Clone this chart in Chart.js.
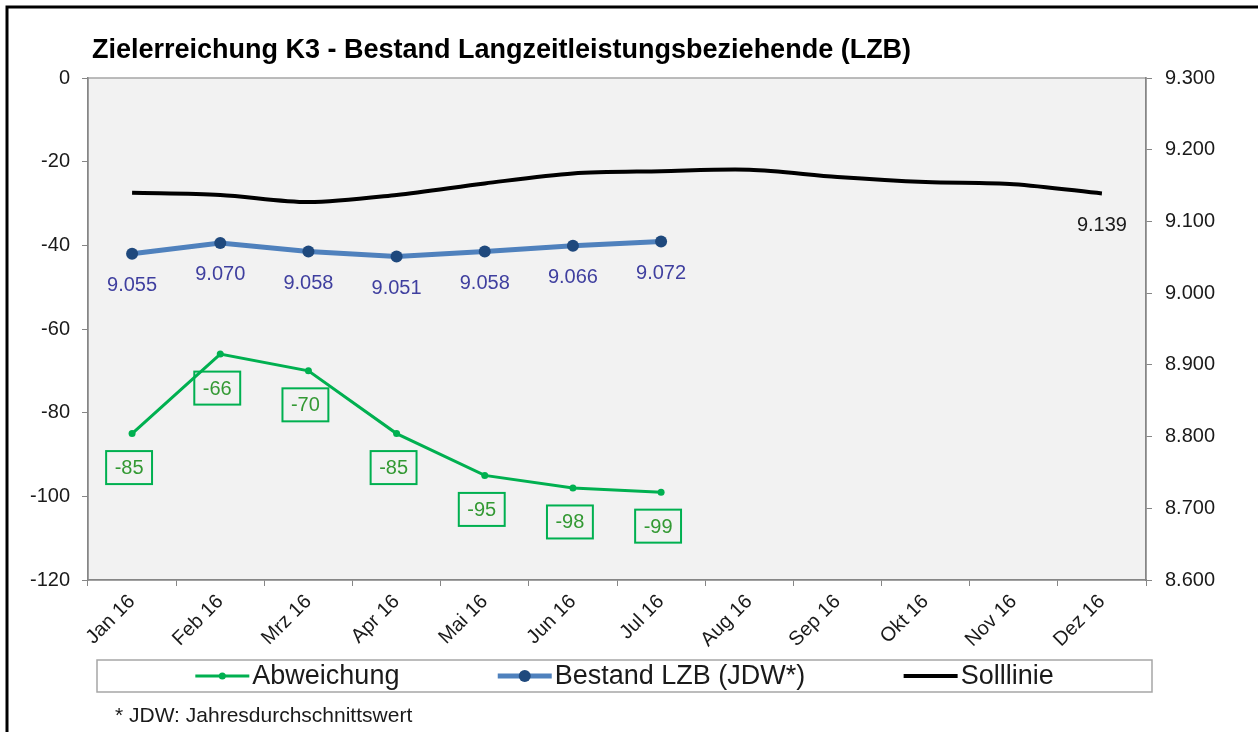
<!DOCTYPE html>
<html lang="de">
<head>
<meta charset="utf-8">
<title>Zielerreichung K3</title>
<script src="https://cdn.jsdelivr.net/npm/chart.js@4.4.1/dist/chart.umd.min.js"></script>
<style>
  html, body { margin: 0; padding: 0; background: #fff; }
  #wrap { width: 1258px; height: 732px; }
</style>
</head>
<body>
<div id="wrap"><canvas id="chart" width="1258" height="732"></canvas></div>
<script>
const titleText = "Zielerreichung K3 - Bestand Langzeitleistungsbeziehende (LZB)";
const footnote = "* JDW: Jahresdurchschnittswert";

const months = ["Jan 16", "Feb 16", "Mrz 16", "Apr 16", "Mai 16", "Jun 16",
  "Jul 16", "Aug 16", "Sep 16", "Okt 16", "Nov 16", "Dez 16"];
const abweichung = [-85, -66, -70, -85, -95, -98, -99];
const bestand = [9055, 9070, 9058, 9051, 9058, 9066, 9072];
const solllinie = [9140, 9137, 9127, 9137, 9153, 9167, 9170, 9172, 9162, 9155, 9152, 9139];

const leftRange = [-120, 0];
const leftStep = 20;
const rightRange = [8600, 9300];
const rightStep = 100;

const FONT = "'Liberation Sans', Arial, sans-serif";
const TEXT = "#1a1a1a";
const AXIS = "#868686";

// 9055 -> "9.055"
const deNum = (v) => String(v).replace(/\B(?=(\d{3})+(?!\d))/g, ".");

const framePlugin = {
  id: "frame",
  beforeDraw(chart) {
    const { ctx, chartArea: a } = chart;
    ctx.save();
    ctx.fillStyle = "#fff";
    ctx.fillRect(0, 0, chart.width, chart.height);
    ctx.fillStyle = "#f2f2f2";
    ctx.fillRect(a.left, a.top, a.right - a.left, a.bottom - a.top);
    ctx.strokeStyle = "#a6a6a6";
    ctx.lineWidth = 1.5;
    ctx.strokeRect(a.left, a.top, a.right - a.left, a.bottom - a.top);

    // outer frame, cut off at right and bottom
    ctx.strokeStyle = "#000";
    ctx.lineWidth = 3;
    ctx.beginPath();
    ctx.moveTo(7, chart.height);
    ctx.lineTo(7, 7);
    ctx.lineTo(chart.width, 7);
    ctx.stroke();

    ctx.font = `bold 27px ${FONT}`;
    ctx.fillStyle = "#000";
    ctx.textBaseline = "alphabetic";
    ctx.textAlign = "left";
    ctx.fillText(titleText, 92, 58);
    ctx.restore();
  },
  afterDraw(chart) {
    const { ctx } = chart;
    ctx.save();
    // legend box
    const box = { left: 97, top: 660, right: 1152, bottom: 692 };
    ctx.strokeStyle = "#a6a6a6";
    ctx.lineWidth = 1.5;
    ctx.strokeRect(box.left, box.top, box.right - box.left, box.bottom - box.top);

    ctx.font = `27px ${FONT}`;
    const sample = 54, gapText = 3;
    const items = chart.data.datasets.map((ds) => ({
      ds, w: sample + gapText + ctx.measureText(ds.label).width,
    }));
    const total = items.reduce((s, it) => s + it.w, 0);
    const gap = (box.right - box.left - total) / (items.length + 1);
    const cy = (box.top + box.bottom) / 2;
    let x = box.left + gap;
    items.forEach(({ ds, w }) => {
      ctx.strokeStyle = ds.borderColor;
      ctx.lineWidth = ds.borderWidth;
      ctx.beginPath();
      ctx.moveTo(x, cy);
      ctx.lineTo(x + sample, cy);
      ctx.stroke();
      if (ds.pointRadius > 0) {
        ctx.fillStyle = ds.pointBackgroundColor;
        ctx.beginPath();
        ctx.arc(x + sample / 2, cy, ds.pointRadius, 0, Math.PI * 2);
        ctx.fill();
      }
      ctx.fillStyle = TEXT;
      ctx.textBaseline = "middle";
      ctx.textAlign = "left";
      ctx.fillText(ds.label, x + sample + gapText, cy + 1);
      x += w + gap;
    });

    ctx.font = `21px ${FONT}`;
    ctx.textBaseline = "alphabetic";
    ctx.fillText(footnote, 115, 722);
    ctx.restore();
  },
};

const labelPlugin = {
  id: "pointLabels",
  afterDatasetsDraw(chart) {
    const { ctx } = chart;
    ctx.save();
    ctx.font = `20px ${FONT}`;
    ctx.textAlign = "center";
    ctx.textBaseline = "middle";
    chart.data.datasets.forEach((ds, di) => {
      const meta = chart.getDatasetMeta(di);
      meta.data.forEach((pt, i) => {
        const v = ds.data[i];
        if (v == null) return;
        if (ds.labelStyle === "box") {
          const txt = String(v);
          const w = ctx.measureText(txt).width + 17;
          const h = 33;
          const cx = pt.x - 3, cy = pt.y + 34;
          ctx.strokeStyle = ds.borderColor;
          ctx.lineWidth = 2;
          ctx.strokeRect(cx - w / 2, cy - h / 2, w, h);
          ctx.fillStyle = "#339933";
          ctx.fillText(txt, cx, cy + 1);
        } else if (ds.labelStyle === "below") {
          ctx.fillStyle = ds.labelColor;
          ctx.fillText(deNum(v), pt.x, pt.y + 32);
        } else if (ds.labelStyle === "last" && i === ds.data.length - 1) {
          ctx.fillStyle = ds.labelColor;
          ctx.fillText(deNum(v), pt.x, pt.y + 32);
        }
      });
    });
    ctx.restore();
  },
};

new Chart(document.getElementById("chart"), {
  type: "line",
  data: {
    labels: months,
    datasets: [
      {
        label: "Abweichung", data: abweichung, yAxisID: "y",
        borderColor: "#00b050", borderWidth: 3, tension: 0,
        pointRadius: 3.5, pointBackgroundColor: "#00b050", pointBorderWidth: 0,
        labelStyle: "box",
      },
      {
        label: "Bestand LZB (JDW*)", data: bestand, yAxisID: "y2",
        borderColor: "#4f81bd", borderWidth: 5, tension: 0,
        pointRadius: 6, pointBackgroundColor: "#1f497d", pointBorderWidth: 0,
        labelStyle: "below", labelColor: "#3f3f9f",
      },
      {
        label: "Solllinie", data: solllinie, yAxisID: "y2",
        borderColor: "#000", borderWidth: 4, tension: 0.3,
        pointRadius: 0, pointHoverRadius: 0,
        labelStyle: "last", labelColor: TEXT,
      },
    ],
  },
  options: {
    responsive: false,
    animation: false,
    layout: { padding: { top: 78, left: 0, right: 0, bottom: 0 } },
    plugins: { legend: { display: false }, title: { display: false }, tooltip: { enabled: false } },
    scales: {
      x: {
        offset: true,
        grid: { offset: true, drawOnChartArea: false, tickLength: 6, color: AXIS },
        border: { color: AXIS, width: 1.5 },
        ticks: { autoSkip: false, maxRotation: 45, minRotation: 45, padding: 4, color: TEXT, font: { family: FONT, size: 20 } },
        afterFit: (s) => { s.height = 152; },
      },
      y: {
        position: "left",
        min: leftRange[0], max: leftRange[1],
        ticks: { stepSize: leftStep, padding: 12, color: TEXT, font: { family: FONT, size: 20 } },
        grid: { drawOnChartArea: false, tickLength: 6, color: AXIS },
        border: { color: AXIS, width: 1.5 },
        afterFit: (s) => { s.width = 88; },
      },
      y2: {
        position: "right",
        min: rightRange[0], max: rightRange[1],
        ticks: { stepSize: rightStep, padding: 13, color: TEXT, font: { family: FONT, size: 20 }, callback: (v) => deNum(v) },
        grid: { drawOnChartArea: false, tickLength: 6, color: AXIS },
        border: { color: AXIS, width: 1.5 },
        afterFit: (s) => { s.width = 112; },
      },
    },
  },
  plugins: [framePlugin, labelPlugin],
});
</script>
</body>
</html>
